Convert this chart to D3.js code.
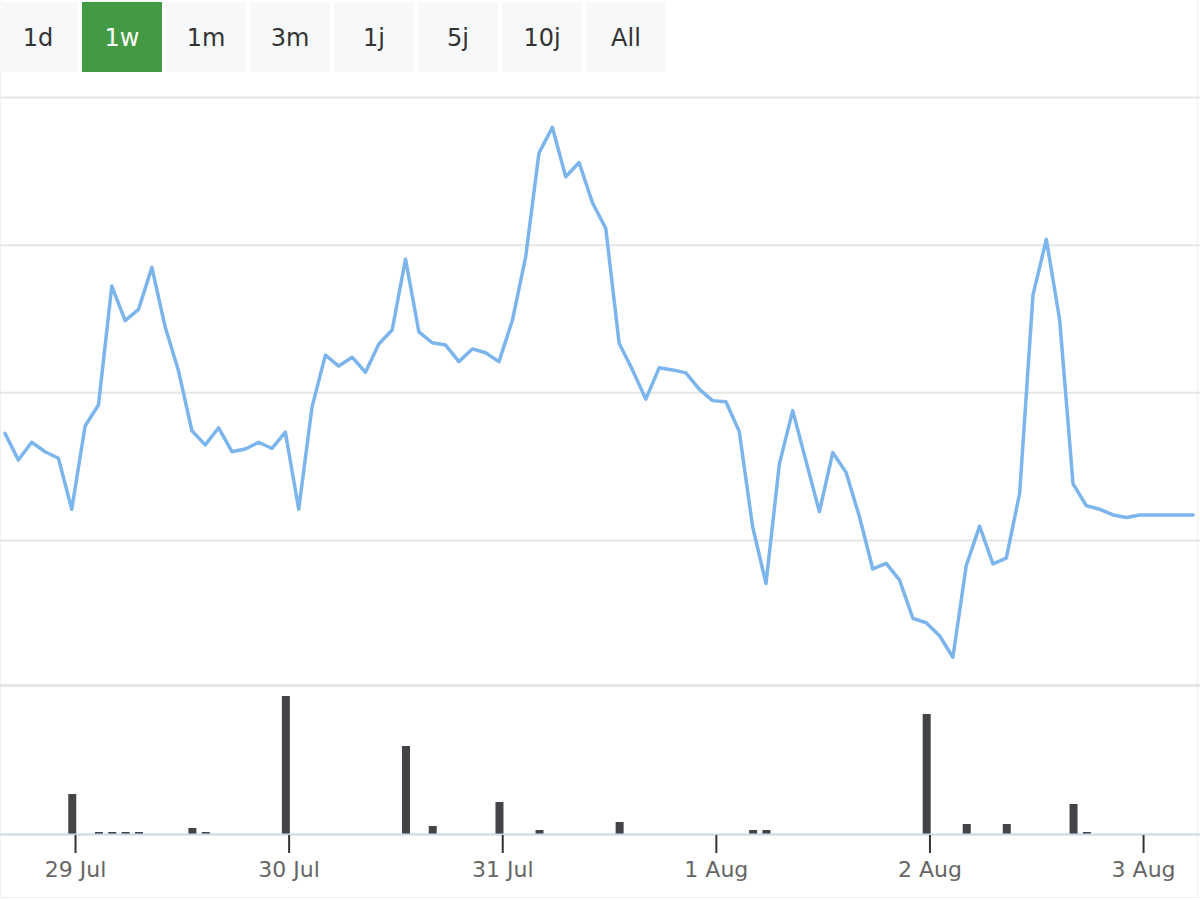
<!DOCTYPE html>
<html>
<head>
<meta charset="utf-8">
<script src="https://cdn.jsdelivr.net/npm/d3@7"></script>
<style>
  body { margin: 0; background: #ffffff; }
  svg { display: block; font-family: "DejaVu Sans", sans-serif; }
</style>
</head>
<body>
<svg id="chart" width="1200" height="900"></svg>
<script>
// ---------------- data ----------------
const rangeButtons = ["1d", "1w", "1m", "3m", "1j", "5j", "10j", "All"];
const selectedButton = "1w";

// sampling: one price point every 1.5 hours, starting 28 Jul 16:08 (UTC)
const startTime = Date.UTC(2019, 6, 28, 16, 8);
const stepHours = 1.5;

const priceValues = [
  103.61, 102.71, 103.31, 102.99, 102.77, 101.04, 103.86, 104.57, 108.60, 107.43,
  107.81, 109.23, 107.21, 105.72, 103.70, 103.22, 103.80, 102.99, 103.08, 103.31,
  103.10, 103.65, 101.04, 104.51, 106.26, 105.89, 106.19, 105.68, 106.64, 107.11,
  109.51, 107.05, 106.68, 106.60, 106.04, 106.47, 106.34, 106.04, 107.43, 109.59,
  113.11, 113.97, 112.30, 112.78, 111.42, 110.55, 106.66, 105.76, 104.77, 105.83,
  105.76, 105.66, 105.11, 104.72, 104.68, 103.67, 100.45, 98.53, 102.57, 104.38,
  102.67, 100.96, 102.96, 102.29, 100.79, 99.02, 99.21, 98.65, 97.35, 97.20,
  96.76, 96.03, 99.13, 100.47, 99.19, 99.39, 101.58, 108.30, 110.18, 107.45,
  101.90, 101.16, 101.04, 100.85, 100.76, 100.85, 100.85, 100.85, 100.85, 100.85
];

// volume bars: index of the price sample they belong to, and their value
const volumeIndex  = [5, 7, 8, 9, 10, 14, 15, 21, 30, 32, 37, 40, 46, 56, 57, 69, 72, 75, 80, 81];
const volumeValues = [40, 2, 2, 2, 2, 6, 2, 138, 88, 8, 32, 4, 12, 4, 4, 120, 10, 10, 30, 2];

const priceGridTicks = [100, 105, 110, 115];
const priceDomain = [95, 115];
const volumeDomain = [0, 147];

// ---------------- build ----------------
const times = priceValues.map((_, i) => new Date(startTime + i * stepHours * 3600 * 1000));
const priceData = priceValues.map((v, i) => ({ t: times[i], v }));
const volumeData = volumeIndex.map((idx, k) => ({ t: times[idx], v: volumeValues[k] }));

const svg = d3.select("#chart");
const W = 1200, H = 900;

const x = d3.scaleUtc()
  .domain([times[0], times[times.length - 1]])
  .range([5, 1193.2]);

const y = d3.scaleLinear().domain(priceDomain).range([687.7, 97]);
const yVol = d3.scaleLinear().domain(volumeDomain).range([834, 687]);

// faint container border (left, right, bottom)
svg.append("path")
  .attr("d", "M0.5,0 V897.5 H1197.5 V0")
  .attr("fill", "none")
  .attr("stroke", "#f0f0f0")
  .attr("stroke-width", 1);

// range selector buttons
const btnW = 80, btnGap = 4, btnH = 70, btnY = 2;
const btn = svg.append("g").attr("class", "buttons")
  .selectAll("g").data(rangeButtons).join("g")
  .attr("transform", (d, i) => `translate(${i * (btnW + btnGap) - 2},${btnY})`);
btn.append("rect")
  .attr("width", btnW).attr("height", btnH)
  .attr("fill", d => d === selectedButton ? "#449a44" : "#f7f8fa");
btn.append("text")
  .attr("x", btnW / 2).attr("y", 44)
  .attr("text-anchor", "middle")
  .attr("font-size", 24)
  .attr("fill", d => d === selectedButton ? "#ffffff" : "#333333")
  .text(d => d);

// price gridlines
const grid = svg.append("g")
  .call(d3.axisRight(y).tickValues(priceGridTicks).tickSize(W).tickFormat(""));
grid.select(".domain").remove();
grid.selectAll(".tick line")
  .attr("stroke", "#e6e6e6").attr("stroke-width", 2);

// pane separator
svg.append("rect")
  .attr("x", 0).attr("y", 684).attr("width", W).attr("height", 3)
  .attr("fill", "#e6e6e6");

// price line
svg.append("path")
  .datum(priceData)
  .attr("fill", "none")
  .attr("stroke", "#7cb5ec")
  .attr("stroke-width", 3.5)
  .attr("stroke-linejoin", "round")
  .attr("stroke-linecap", "round")
  .attr("d", d3.line().x(d => x(d.t)).y(d => y(d.v)));

// volume bars
const barW = 8;
svg.append("g").selectAll("rect").data(volumeData).join("rect")
  .attr("x", d => x(d.t) - barW / 2 + 0.5)
  .attr("y", d => yVol(d.v))
  .attr("width", barW)
  .attr("height", d => yVol(0) - yVol(d.v))
  .attr("fill", "#434348");

// x axis
const xAxis = svg.append("g")
  .attr("transform", `translate(0,${yVol(0)})`)
  .call(d3.axisBottom(x).ticks(d3.utcDay.every(1)).tickFormat(d3.utcFormat("%-d %b")).tickSize(19).tickPadding(8));
xAxis.select(".domain")
  .attr("d", `M0,0.5H${W}`)
  .attr("stroke", "#ccd6eb").attr("stroke-width", 2);
xAxis.selectAll(".tick line")
  .attr("y1", 1)
  .attr("stroke", "#333333").attr("stroke-width", 2);
xAxis.selectAll(".tick text")
  .attr("font-size", 22)
  .attr("font-family", "DejaVu Sans, sans-serif")
  .attr("fill", "#666666");
</script>
</body>
</html>
